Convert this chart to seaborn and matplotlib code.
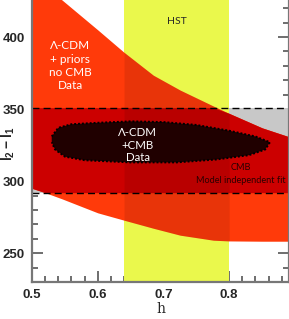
import numpy as np
import pandas as pd
import matplotlib
matplotlib.use("Agg")
import matplotlib.pyplot as plt
import seaborn as sns

# Region "Lambda-CDM + priors, no CMB data" (upper / lower edge vs h)
h_pts = np.array([0.50, 0.52, 0.5457, 0.60, 0.64, 0.6846, 0.7253, 0.776, 0.80, 0.85, 0.891])
upper = np.array([444, 435, 425.7, 405, 389.4, 373.5, 363.2, 352.1, 347.0, 337, 330.8])
lower = np.array([295, 292, 287.7, 278, 272.9, 267.3, 262.5, 259.0, 258.5, 258.3, 258.3])

# Model independent CMB fit band
band_lo, band_hi = 292, 351

# HST prior on h
hst_lo, hst_hi = 0.64, 0.80

# Lambda-CDM + CMB data contour
cont_h = [0.530, 0.540, 0.560, 0.600, 0.650, 0.700, 0.750, 0.800, 0.840, 0.862,
          0.855, 0.830, 0.780, 0.720, 0.650, 0.580, 0.550, 0.535, 0.530]
cont_l = [331, 337, 339.5, 340.5, 341.5, 341, 339, 335, 331, 327,
          322, 318, 315, 313, 313, 314.5, 317, 322, 327]

sns.set_style("ticks")
plt.rcParams['font.family'] = ['Liberation Sans', 'DejaVu Sans']
plt.rcParams['mathtext.fontset'] = 'custom'
plt.rcParams['mathtext.rm'] = 'Liberation Sans'
plt.rcParams['mathtext.bf'] = 'Liberation Sans:bold'

fig = plt.figure(figsize=(2.89, 3.19), dpi=100)
ax = fig.add_axes([32 / 289, 37 / 319, 1 - 32 / 289, 1 - 37 / 319])

xlim = (0.5, 0.891)
# grey band, yellow HST band
ax.fill_between(xlim, band_lo, band_hi, color='#c8c8c8', lw=0, zorder=1)
ax.axvspan(hst_lo, hst_hi, color='#eaf84c', lw=0, zorder=2)

# orange region and red intersection with the band
ax.fill_between(h_pts, lower, upper, color='#ff3a0a', lw=0, zorder=3)
ax.fill_between(h_pts, np.maximum(lower, band_lo), np.minimum(upper, band_hi),
                color='#cc0000', lw=0, zorder=4)
# darker where the HST prior overlaps
ax.fill_between(h_pts, lower, upper, where=(h_pts >= hst_lo) & (h_pts <= hst_hi),
                color='black', alpha=0.09, lw=0, zorder=5)

# band edges
ax.axhline(band_lo, color='black', ls=(0, (5, 3)), lw=1.0, zorder=6)
ax.axhline(band_hi, color='black', ls=(0, (5, 3)), lw=1.0, zorder=6)

# inner contour
ax.fill(cont_h, cont_l, color='#200000', lw=0, zorder=7)
df = pd.DataFrame({'h': cont_h, 'l': cont_l})
sns.lineplot(data=df, x='h', y='l', sort=False, estimator=None, ax=ax,
             color='black', lw=1.4, ls=(0, (1, 1)), zorder=8)

# texts
tfont = ['Lato', 'DejaVu Sans']
ax.text(0.72, 411, 'HST', fontsize=7.5, ha='center', va='center', family=tfont, zorder=9)
ax.text(0.558, 380, 'Λ-CDM\n+ priors\nno CMB\nData', color='white', fontsize=8.5,
        ha='center', va='center', linespacing=1.25, family=tfont, zorder=9)
ax.text(0.661, 325, 'Λ-CDM\n+CMB\nData', color='white', fontsize=8.3,
        ha='center', va='center', linespacing=1.2, family=tfont, zorder=9)
ax.text(0.818, 305, 'CMB\nModel independent fit', color='#2a0000', fontsize=6.6,
        ha='center', va='center', linespacing=1.5, family=tfont, zorder=9)

ax.set_xlim(*xlim)
ax.set_ylim(230, 425.7)
ax.set_xticks([0.5, 0.6, 0.7, 0.8])
ax.set_xticks(np.arange(0.5, 0.891, 0.02), minor=True)
ax.set_yticks([250, 300, 350, 400])
ax.set_yticks(np.arange(240, 426, 10), minor=True)
ax.set_xticklabels(['0.5', '0.6', '0.7', '0.8'])

ax.tick_params(which='both', direction='in', color='#555555', width=1.2,
               left=True, right=True, bottom=True, top=False, labelsize=9.5)
ax.tick_params(which='major', length=8, pad=5)
ax.tick_params(which='minor', length=4)
for lab in ax.get_xticklabels() + ax.get_yticklabels():
    lab.set_fontweight('bold')

for side in ['left', 'bottom', 'right']:
    ax.spines[side].set_color('#777777')
    ax.spines[side].set_linewidth(1.6)
    ax.spines[side].set_zorder(10)
ax.spines['top'].set_visible(False)

ax.set_xlabel('h', family='DejaVu Serif', fontsize=10, labelpad=1)
ax.set_ylabel(r'$\mathbf{l_2 - l_1}$', fontsize=10, va='center')
ax.yaxis.set_label_coords(-0.093, 0.49)

fig.savefig('out.png', dpi=100)
